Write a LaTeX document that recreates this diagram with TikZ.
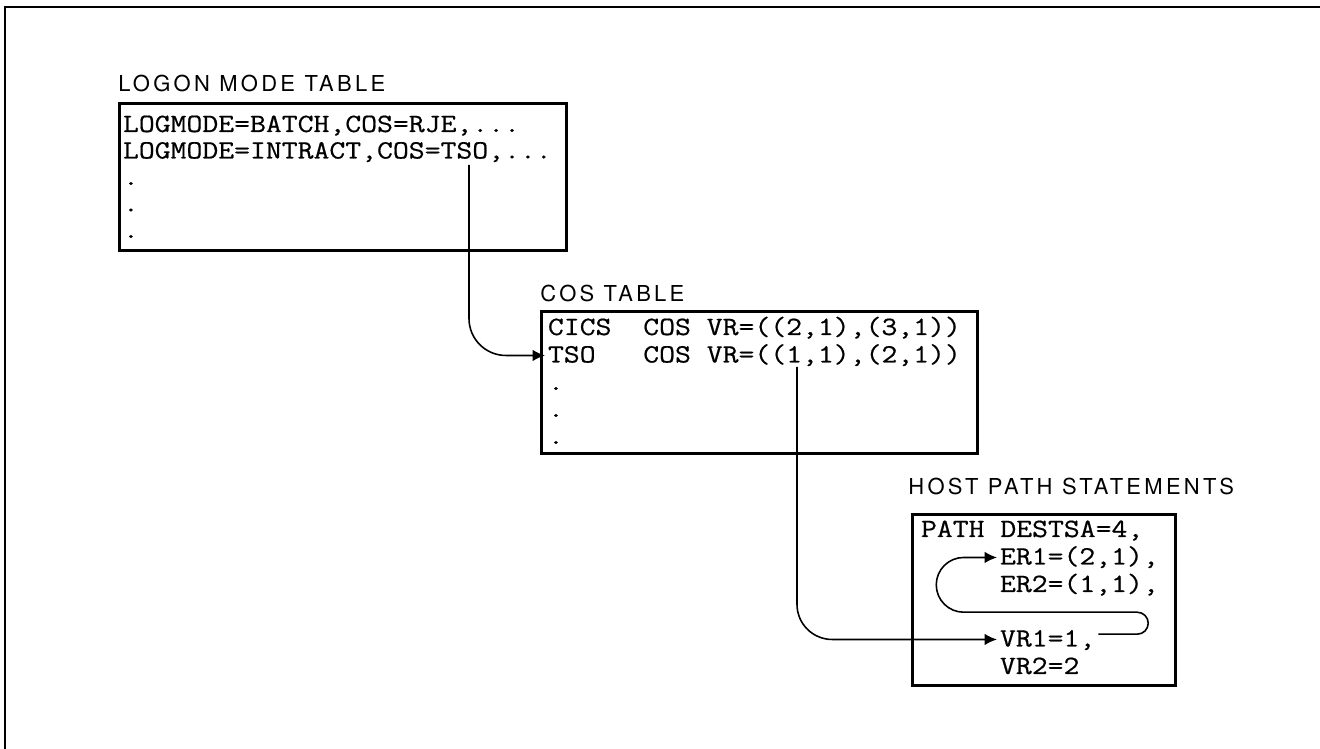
\documentclass[tikz,border=0pt]{standalone}
\usepackage{fontspec}
\setmonofont[FakeStretch=1.17,FakeBold=0.6]{Latin Modern Mono}
\newfontfamily\lblfont[LetterSpace=15]{TeX Gyre Heros}
\usetikzlibrary{arrows.meta,positioning,calc}

\begin{document}
\begin{tikzpicture}[
  x=0.02cm, y=-0.02cm,
  tbl/.style={draw,line width=1.5pt,anchor=north west,inner sep=0pt},
  tabrow/.style={font=\ttfamily\fontsize{15pt}{15pt}\selectfont,anchor=base west,
    inner xsep=1.5pt,inner ysep=0pt,text height=8pt,text depth=0pt},
  lbl/.style={font=\lblfont\fontsize{12.5pt}{12.5pt}\selectfont,anchor=base west,inner sep=0pt},
  conn/.style={line width=0.9pt,-{Latex[length=7pt,width=6.5pt]}}
]
\useasboundingbox (0,0) rectangle (1320,749);
% frame
\draw[line width=1.6pt] (1320,7) -- (5,7) -- (5,749);
% logon mode table
\node[lbl] (logonlbl) at (118,92) {LOGON MODE TABLE};
\node[tbl,minimum width=8.94cm,minimum height=2.94cm] (logon) at (118,102) {};
\node[tabrow] (batch) at (120,132) {LOGMODE=BATCH,COS=RJE,...};
\node[tabrow] (intract) at (120,158.5) {LOGMODE=INTRACT,COS=TSO,...};
\node[tabrow] (ldot1) at (120,185) {.};
\node[tabrow] (ldot2) at (120,211.5) {.};
\node[tabrow] (ldot3) at (120,238) {.};
% cos table
\node[lbl] (coslbl) at (540,302) {COS TABLE};
\node[tbl,minimum width=8.72cm,minimum height=2.84cm] (costab) at (540,310) {};
\node[tabrow] (cics) at (545,335) {CICS\ \ COS VR=((2,1),(3,1))};
\node[tabrow] (tso) at (545,362.5) {TSO\ \ \ COS VR=((1,1),(2,1))};
\node[tabrow] (cdot1) at (545,390) {.};
\node[tabrow] (cdot2) at (545,417) {.};
\node[tabrow] (cdot3) at (545,444) {.};
% host path statements
\node[lbl] (hostlbl) at (908,495) {HOST PATH STATEMENTS};
\node[tbl,minimum width=5.26cm,minimum height=3.42cm] (hostpath) at (911,513) {};
\node[tabrow] (pathrow) at (918,537) {PATH DESTSA=4,};
\node[tabrow] (er1) at (997,564.5) {ER1=(2,1),};
\node[tabrow] (er2) at (997,592) {ER2=(1,1),};
\node[tabrow] (vr1) at (997,646.5) {VR1=1,};
\node[tabrow] (vr2) at (997,674) {VR2=2};
% connectors
\coordinate (tsoref) at (469,165);
\coordinate (vrref) at (797,367);
\draw[conn,rounded corners=21pt] (tsoref) |- (tso.west);
\draw[conn,rounded corners=20pt] (vrref) |- (vr1.west);
\draw[conn,rounded corners=6.3pt] ([yshift=3pt]vr1.east) -- ++(50,0) -- ++(0,-22)
  -- ++(-100,0) [rounded corners=15.6pt] -- ++(-112,0) |- (er1.west);
\end{tikzpicture}
\end{document}
